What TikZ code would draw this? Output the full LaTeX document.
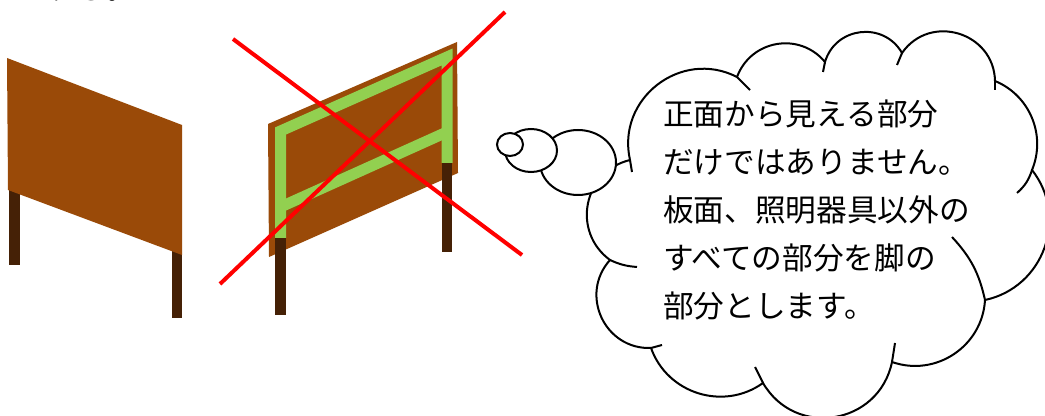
\documentclass[tikz,border=0pt]{standalone}
\usepackage{fontspec}
\newfontfamily\jpfont{Noto Sans CJK JP}
\definecolor{boardbrown}{HTML}{9A4A08}
\definecolor{legbrown}{HTML}{452106}
\definecolor{framegreen}{HTML}{92D050}

\begin{document}
\begin{tikzpicture}[x=0.75pt,y=-0.75pt,
    board/.style={fill=boardbrown},
    leg/.style={fill=legbrown},
    frame/.style={draw=framegreen,line width=8.25pt},
    cross/.style={draw=red,line width=3pt},
    bubble/.style={draw=black,fill=white,line width=1.5pt},
    puffend/.style={draw=black,line width=1.5pt},
    jptext/.style={font=\jpfont\fontsize{23pt}{36pt}\selectfont,inner sep=0pt,anchor=base west}]
    \path[use as bounding box,fill=white] (0,0) rectangle (1045,416);

    % line of text running above
    \node[jptext] (toptext) at (15,-0.5) {とする。};

    % sign seen from the front
    \fill[leg] (9,188) rectangle (20,265);
    \fill[leg] (172,250) rectangle (182,318);
    \fill[board] (7,58) -- (182,125) -- (182,255) -- (8,190) -- cycle;

    % sign seen from the back, frame and legs
    \fill[board] (268,124) -- (457,42) -- (458,173) -- (269,257) -- cycle;
    \draw[frame] (280.5,238) -- (280.5,131) -- (447,57) -- (447,163);
    \draw[frame] (280.5,207) -- (447,132);
    \fill[leg] (275,238) rectangle (286,315);
    \fill[leg] (442,163) rectangle (452,252);
    \draw[cross] (233,39) -- (522,255);
    \draw[cross] (220,284) -- (505,12);

    % thought cloud
    \draw[bubble] (630,160)
        to[bend left=65, looseness=1.19] (737,77)
        to[bend left=60, looseness=1.14] (825,62)
        to[bend left=67, looseness=1.22] (902,53)
        to[bend left=72, looseness=1.29] (995,81)
        to[bend left=45, looseness=1.00] (1032,170)
        to[bend left=58, looseness=1.11] (985,300)
        to[bend left=53, looseness=1.06] (892,362)
        to[bend left=69, looseness=1.26] (763,383)
        to[bend left=53, looseness=1.06] (651,348)
        to[bend left=67, looseness=1.22] (610,260)
        to[bend left=65, looseness=1.21] (630,160);
    \draw[puffend] (630,160) -- (632,172);
    \draw[puffend] (737,77) -- (750,90);
    \draw[puffend] (825,62) -- (823,72);
    \draw[puffend] (902,53) -- (897,65);
    \draw[puffend] (995,81) -- (995,90);
    \draw[puffend] (1032,170) to[bend left=15] (1017,193);
    \draw[puffend] (985,300) to[bend right=15] (952,237);
    \draw[puffend] (892,362) -- (895,343);
    \draw[puffend] (763,383) -- (755,367);
    \draw[puffend] (651,348) -- (662,345);
    \draw[puffend] (610,260) to[bend right=10] (637,267);

    % trailing bubbles
    \draw[bubble] (578,162.5) ellipse [x radius=38, y radius=32.5];
    \draw[bubble] (531,150.5) ellipse [x radius=26, y radius=21.5];
    \draw[bubble] (510,144.5) ellipse [x radius=13, y radius=11.5];

    \foreach \txt [count=\i from 0] in {正面から見える部分,だけではありません。,板面、照明器具以外の,すべての部分を脚の,部分とします。}
        \node[jptext] (line\i) at (663,126+48*\i) {\txt};
\end{tikzpicture}
\end{document}
